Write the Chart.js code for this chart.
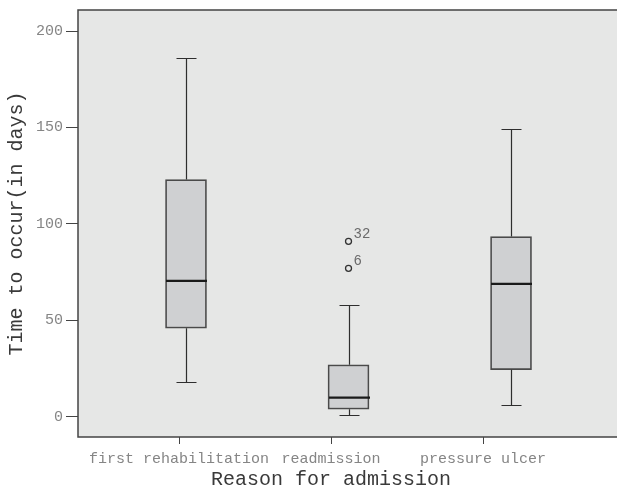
<!DOCTYPE html>
<html>
<head>
<meta charset="utf-8">
<script src="https://cdn.jsdelivr.net/npm/chart.js@4.4.1/dist/chart.umd.min.js"></script>
<style>
  html, body { margin: 0; padding: 0; background: #fff; overflow: hidden; }
  #wrap { width: 617px; height: 499px; position: relative; }
  canvas { display: block; }
</style>
</head>
<body>
<div id="wrap"><canvas id="boxChart"></canvas></div>
<script>
const categories = ['first rehabilitation', 'readmission', 'pressure ulcer'];
const whiskerLow = [18, 1, 6];
const q1 = [46, 4, 24.5];
const median = [70.5, 10, 69];
const q3 = [123, 27, 93.5];
const whiskerHigh = [186, 58, 149];
const outlierCat = [2, 2];
const outlierValues = [91, 77];
const outlierIds = ['32', '6'];
const yTicks = [0, 50, 100, 150, 200];

const MONO = '"Liberation Mono", "DejaVu Sans Mono", monospace';

// plot background + frame (top, left, bottom; runs off the right edge of the page)
const framePlugin = {
  id: 'frame',
  beforeDraw(chart) {
    const { ctx, chartArea: a } = chart;
    const r = chart.width + 2;
    ctx.save();
    ctx.fillStyle = '#e6e7e6';
    ctx.fillRect(a.left, a.top, r - a.left, a.bottom - a.top);
    ctx.strokeStyle = '#444';
    ctx.lineWidth = 1.5;
    ctx.beginPath();
    ctx.moveTo(r, a.top);
    ctx.lineTo(a.left, a.top);
    ctx.lineTo(a.left, a.bottom);
    ctx.lineTo(r, a.bottom);
    ctx.stroke();
    ctx.restore();
  }
};

// whiskers, caps, medians and outlier ids
const boxPlugin = {
  id: 'boxParts',
  afterDatasetsDraw(chart) {
    const { ctx } = chart;
    const xs = chart.scales.xb, ys = chart.scales.y;
    ctx.save();
    categories.forEach((c, i) => {
      const x = Math.round(xs.getPixelForValue(i + 1)) + 0.5;
      ctx.strokeStyle = '#2e2e2e';
      ctx.lineWidth = 1.2;
      ctx.beginPath();
      ctx.moveTo(x, ys.getPixelForValue(q3[i]));
      ctx.lineTo(x, ys.getPixelForValue(whiskerHigh[i]));
      ctx.moveTo(x, ys.getPixelForValue(q1[i]));
      ctx.lineTo(x, ys.getPixelForValue(whiskerLow[i]));
      const yh = Math.round(ys.getPixelForValue(whiskerHigh[i])) + 0.5;
      const yl = Math.round(ys.getPixelForValue(whiskerLow[i])) + 0.5;
      ctx.moveTo(x - 10, yh); ctx.lineTo(x + 10, yh);
      ctx.moveTo(x - 10, yl); ctx.lineTo(x + 10, yl);
      ctx.stroke();

      const ym = ys.getPixelForValue(median[i]);
      ctx.strokeStyle = '#1a1a1a';
      ctx.lineWidth = 2.2;
      ctx.beginPath();
      ctx.moveTo(x - 20.5, ym);
      ctx.lineTo(x + 20.5, ym);
      ctx.stroke();
    });
    ctx.fillStyle = '#6a6a6a';
    ctx.font = '14px ' + MONO;
    ctx.textAlign = 'left';
    ctx.textBaseline = 'alphabetic';
    outlierIds.forEach((id, i) => {
      const x = xs.getPixelForValue(outlierCat[i]);
      const y = ys.getPixelForValue(outlierValues[i]);
      ctx.fillText(id, x + 5, y - 3);
    });
    ctx.restore();
  }
};

new Chart(document.getElementById('boxChart'), {
  data: {
    datasets: [
      {
        type: 'bar',
        xAxisID: 'xb',
        data: categories.map((c, i) => ({ x: i + 1, y: [q1[i], q3[i]] })),
        backgroundColor: '#cfd0d2',
        borderColor: '#4a4a4a',
        borderWidth: 1.7,
        borderSkipped: false,
        barThickness: 41
      },
      {
        type: 'scatter',
        xAxisID: 'xb',
        data: outlierValues.map((v, i) => ({ x: outlierCat[i], y: v })),
        pointStyle: 'circle',
        pointRadius: 3,
        pointBackgroundColor: 'rgba(0,0,0,0)',
        pointBorderColor: '#333',
        pointBorderWidth: 1.3
      }
    ]
  },
  options: {
    responsive: true,
    maintainAspectRatio: false,
    animation: false,
    layout: { padding: { top: 10, right: 33, left: 0, bottom: 0 } },
    plugins: {
      legend: { display: false },
      tooltip: { enabled: false }
    },
    scales: {
      x: {
        type: 'linear',
        position: 'bottom',
        offset: false,
        min: 0.3355,
        max: 3.664,
        afterBuildTicks(scale) { scale.ticks = categories.map((c, i) => ({ value: i + 1 })); },
        afterFit(scale) { scale.height = 62; scale.paddingLeft = 0; scale.paddingRight = 0; },
        border: { display: false },
        grid: { drawOnChartArea: false, drawTicks: true, tickLength: 7, color: '#444', lineWidth: 1 },
        ticks: {
          autoSkip: false,
          maxRotation: 0,
          padding: 6,
          color: '#858585',
          font: { family: MONO, size: 15 },
          callback: (v) => categories[v - 1]
        },
        title: {
          display: true,
          text: 'Reason for admission',
          color: '#3a3a3a',
          font: { family: MONO, size: 20 },
          padding: { top: 0, bottom: 7 }
        }
      },
      xb: {
        type: 'linear',
        display: false,
        offset: false,
        min: 0.3354,
        max: 3.449
      },
      y: {
        min: -10.4,
        max: 210.9,
        afterBuildTicks(scale) { scale.ticks = yTicks.map(v => ({ value: v })); },
        afterFit(scale) { scale.width = 78; scale.paddingTop = 0; scale.paddingBottom = 0; },
        border: { display: false },
        grid: { drawOnChartArea: false, drawTicks: true, tickLength: 12, color: '#444', lineWidth: 1 },
        ticks: {
          padding: 3,
          color: '#858585',
          font: { family: MONO, size: 15 }
        },
        title: {
          display: true,
          text: 'Time to occur(in days)',
          color: '#3a3a3a',
          font: { family: MONO, size: 20 },
          padding: { top: 5, bottom: 0 }
        }
      }
    }
  },
  plugins: [framePlugin, boxPlugin]
});
</script>
</body>
</html>
